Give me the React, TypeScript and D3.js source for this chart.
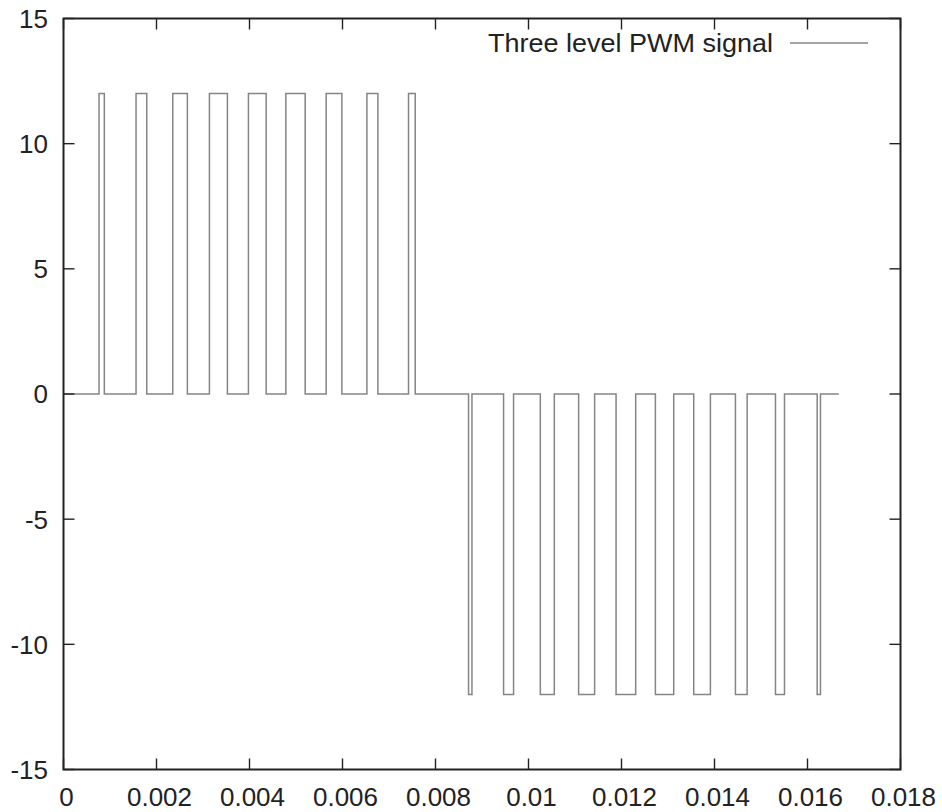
import React from "react";
import * as d3 from "d3";

// Transition times (s) and the level that starts at each time (V)
const times: number[] = [
  0,
  0.000764, 0.000878,
  0.00156, 0.00179,
  0.00235, 0.002664,
  0.003138, 0.003525,
  0.003977, 0.004358,
  0.004782, 0.005197,
  0.005649, 0.005987,
  0.006525, 0.006761,
  0.00742, 0.007564,
  0.008711, 0.008784,
  0.009464, 0.009679,
  0.010254, 0.010555,
  0.011078, 0.011422,
  0.011883, 0.012305,
  0.012729, 0.013123,
  0.013553, 0.013912,
  0.01445, 0.014702,
  0.015311, 0.015505,
  0.016208, 0.016279,
  0.016673,
];
const levels: number[] = [
  0,
  12, 0, 12, 0, 12, 0, 12, 0, 12, 0, 12, 0, 12, 0, 12, 0, 12, 0,
  -12, 0, -12, 0, -12, 0, -12, 0, -12, 0, -12, 0, -12, 0, -12, 0, -12, 0, -12, 0,
  0,
];
const xTicks: number[] = [0, 0.002, 0.004, 0.006, 0.008, 0.01, 0.012, 0.014, 0.016, 0.018];
const xTickLabels: string[] = ["0", "0.002", "0.004", "0.006", "0.008", "0.01", "0.012", "0.014", "0.016", "0.018"];
const yTicks: number[] = [-15, -10, -5, 0, 5, 10, 15];
const yTickLabels: string[] = ["-15", "-10", "-5", "0", "5", "10", "15"];
const seriesName = "Three level PWM signal";

const W = 942;
const H = 812;
const left = 63.5;
const right = 900.5;
const top = 18.5;
const bottom = 769.5;
const tickLen = 11;
const font = "'Liberation Sans', Arial, Helvetica, sans-serif";

export default function App() {
  const x = d3.scaleLinear().domain([0, 0.018]).range([left, right]);
  const y = d3.scaleLinear().domain([-15, 15]).range([bottom, top]);
  const data = times.map((t, i) => [t, levels[i]] as [number, number]);
  const line = d3
    .line<[number, number]>()
    .x((d) => x(d[0]))
    .y((d) => y(d[1]))
    .curve(d3.curveStepAfter);
  const path = line(data) || "";

  return (
    <svg
      width={W}
      height={H}
      style={{ position: "absolute", left: 0, top: 0, background: "#fff" }}
    >
      <rect x={0} y={0} width={W} height={H} fill="#fff" />
      <path d={path} fill="none" stroke="#858585" strokeWidth={1.5} />
      {/* ticks */}
      {xTicks.map((t, i) => (
        <g key={"xt" + i}>
          <line x1={x(t)} x2={x(t)} y1={bottom} y2={bottom - tickLen} stroke="#222" strokeWidth={1.4} />
          <line x1={x(t)} x2={x(t)} y1={top} y2={top + tickLen} stroke="#222" strokeWidth={1.4} />
          <text
            x={x(t) + 3}
            y={806}
            textAnchor="middle"
            fontFamily={font}
            fontSize={26}
            fill="#222"
          >
            {xTickLabels[i]}
          </text>
        </g>
      ))}
      {yTicks.map((v, i) => (
        <g key={"yt" + i}>
          <line x1={left} x2={left + tickLen} y1={y(v)} y2={y(v)} stroke="#222" strokeWidth={1.4} />
          <line x1={right} x2={right - tickLen} y1={y(v)} y2={y(v)} stroke="#222" strokeWidth={1.4} />
          <text
            x={48}
            y={y(v)}
            dy="0.36em"
            textAnchor="end"
            fontFamily={font}
            fontSize={26}
            fill="#222"
          >
            {yTickLabels[i]}
          </text>
        </g>
      ))}
      <rect
        x={left}
        y={top}
        width={right - left}
        height={bottom - top}
        fill="none"
        stroke="#222"
        strokeWidth={2}
      />
      {/* legend */}
      <text
        x={488}
        y={43}
        dy="0.36em"
        textAnchor="start"
        textLength={285}
        lengthAdjust="spacingAndGlyphs"
        fontFamily={font}
        fontSize={26}
        fill="#222"
      >
        {seriesName}
      </text>
      <line x1={790} x2={868} y1={43} y2={43} stroke="#858585" strokeWidth={1.5} />
    </svg>
  );
}
